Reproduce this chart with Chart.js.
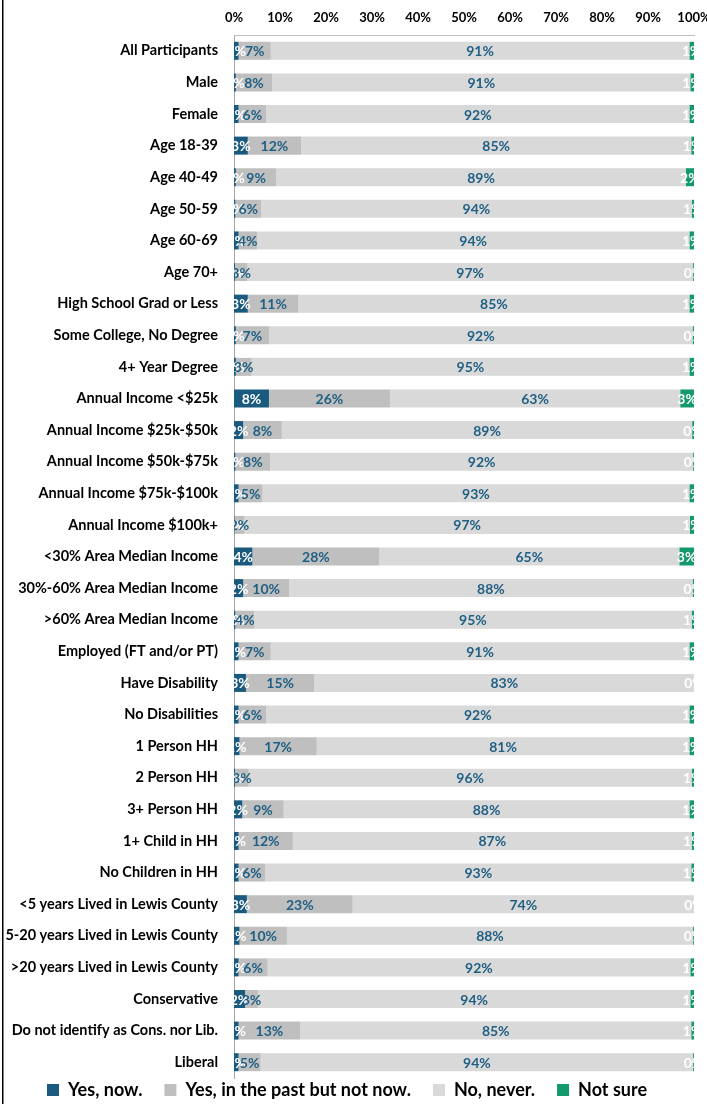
<!DOCTYPE html>
<html><head><meta charset="utf-8">
<script src="https://cdn.jsdelivr.net/npm/chart.js@4.4.1/dist/chart.umd.min.js"></script>
<style>html,body{margin:0;padding:0;background:#fff;}#wrap{width:707px;height:1104px;}</style>
</head><body><div id="wrap"><canvas id="c" width="707" height="1104"></canvas></div>
<script>
const categories = [
  'All Participants','Male','Female','Age 18-39','Age 40-49','Age 50-59','Age 60-69','Age 70+',
  'High School Grad or Less','Some College, No Degree','4+ Year Degree',
  'Annual Income <$25k','Annual Income $25k-$50k','Annual Income $50k-$75k','Annual Income $75k-$100k','Annual Income $100k+',
  '<30% Area Median Income','30%-60% Area Median Income','>60% Area Median Income',
  'Employed (FT and/or PT)','Have Disability','No Disabilities',
  '1 Person HH','2 Person HH','3+ Person HH','1+ Child in HH','No Children in HH',
  '<5 years Lived in Lewis County','5-20 years Lived in Lewis County','>20 years Lived in Lewis County',
  'Conservative','Do not identify as Cons. nor Lib.','Liberal'
];
const seriesNames = ['Yes, now.','Yes, in the past but not now.','No, never.','Not sure'];
const yesNow  = [1,0.4,1,3,0.4,0.3,1,0.2,3,0.4,0.4,7.6,2,0.3,1,0.1,4,2,0.3,1,2.6,1,1.2,0.2,1.8,1,1,2.8,1.2,1,2.4,1,1];
const yesPast = [7,7.9,6,11.6,8.8,5.6,4,2.7,11,7.2,3.4,26.3,8.4,7.6,5.2,2.2,27.6,10,4.1,7,14.9,6,16.8,3,9,11.8,5.8,23,10.3,6.3,2.8,13.4,4.8];
const noNever = [91,90.9,92,84.8,89,93.6,94,96.9,85,92.1,95.2,63.1,89.2,91.9,92.8,96.8,65.2,87.7,95.1,91,82.5,92,81,96.3,88.2,86.7,92.6,74.2,88.3,91.9,94,85,94];
const notSure = [1,0.8,1,0.6,1.8,0.5,1,0.2,1,0.3,1,3,0.4,0.2,1,0.9,3.2,0.3,0.5,1,0,1,1,0.5,1,0.5,0.6,0,0.2,0.8,0.8,0.6,0.2];
const xTickLabels = ['0%','10%','20%','30%','40%','50%','60%','70%','80%','90%','100%'];

const barColors = ['#1A5A7E','#BFBFBF','#D9D9D9','#14996C'];
const labelColors = ['#FFFFFF','#1F5F84','#1F5F84','#FFFFFF'];
const FONT = 'Lato, "Open Sans", sans-serif';

const frame = {
  id:'frame',
  beforeDraw(chart){
    const ctx = chart.ctx;
    ctx.save();
    ctx.fillStyle = '#fff';
    ctx.fillRect(0,0,chart.width,chart.height);
    ctx.fillStyle = '#000';
    ctx.fillRect(2,0,1.5,chart.height);
    ctx.restore();
  }
};
const legendShift = {
  id:'legendShift',
  afterLayout(chart){
    const lg = chart.legend;
    const p = lg.options.labels.padding;
    const top = chart.chartArea.bottom + 3 - p;
    lg.top = top; lg.bottom = top + lg.height;
  }
};
const dataLabels = {
  id:'dataLabels',
  afterDatasetsDraw(chart){
    const ctx = chart.ctx, a = chart.chartArea;
    ctx.save();
    ctx.beginPath();
    ctx.rect(a.left, a.top, a.right - a.left, a.bottom - a.top);
    ctx.clip();
    ctx.font = 'bold 14px ' + FONT;
    ctx.textAlign = 'center';
    ctx.textBaseline = 'middle';
    chart.data.datasets.forEach((ds, di) => {
      const meta = chart.getDatasetMeta(di);
      meta.data.forEach((el, i) => {
        const v = ds.data[i];
        const cx = (el.x + el.base) / 2;
        ctx.fillStyle = labelColors[di];
        ctx.fillText(Math.round(v) + '%', cx, el.y + 1);
      });
    });
    ctx.restore();
  }
};

new Chart(document.getElementById('c'), {
  type:'bar',
  data:{
    labels: categories,
    datasets: [yesNow, yesPast, noNever, notSure].map((d, i) => ({
      label: seriesNames[i], data: d, backgroundColor: barColors[i],
      borderWidth: 0, barPercentage: 0.57, categoryPercentage: 1
    }))
  },
  options:{
    indexAxis:'y',
    responsive:false,
    devicePixelRatio:1,
    animation:false,
    layout:{ padding:{ left:0, right:13, top:0, bottom:-24 } },
    scales:{
      x:{
        position:'top', stacked:true, min:0, max:100,
        grid:{ display:false, drawTicks:false },
        border:{ display:true, color:'#BFBFBF', width:1 },
        ticks:{ stepSize:10, padding:9, color:'#000', font:{ family:FONT, size:13, weight:'bold' },
          callback:(v) => xTickLabels[Math.round(v/10)] },
        afterFit(s){ s.height = 35; s.paddingLeft = 0; s.paddingRight = 0; }
      },
      y:{
        stacked:true,
        grid:{ display:false, drawTicks:false },
        border:{ display:true, color:'#A6A6A6', width:1 },
        ticks:{ padding:16, color:'#000', font:{ family:FONT, size:14.5, weight:'bold' }, autoSkip:false },
        afterFit(s){ s.width = 234; }
      }
    },
    plugins:{
      legend:{
        position:'bottom',
        labels:{ boxWidth:12, boxHeight:12, padding:22, color:'#000', font:{ family:FONT, size:18, weight:'bold' } }
      },
      tooltip:{ enabled:false },
      title:{ display:false }
    }
  },
  plugins:[frame, legendShift, dataLabels]
});
</script></body></html>
